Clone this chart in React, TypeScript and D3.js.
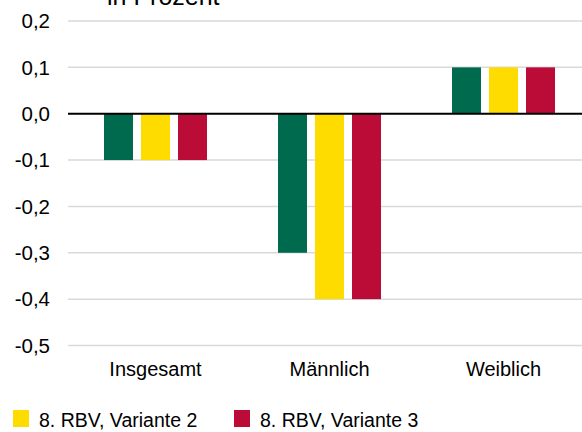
import React from "react";
import * as d3 from "d3";

const categories = ["Insgesamt", "Männlich", "Weiblich"];
const series = ["8. RBV, Variante 1", "8. RBV, Variante 2", "8. RBV, Variante 3"];
const colors = ["#006A4E", "#FFDC00", "#BA0C36"];
// values per series, in order of categories
const values = [
  [-0.1, -0.3, 0.1],
  [-0.1, -0.4, 0.1],
  [-0.1, -0.4, 0.1],
];
const yTicks = [0.2, 0.1, 0.0, -0.1, -0.2, -0.3, -0.4, -0.5];
const legendItems = [1, 2]; // only these fit in the frame

const W = 582;
const H = 432;
const font = "'Liberation Sans', Arial, sans-serif";

const App = () => {
  const y = d3.scaleLinear().domain([-0.5, 0.2]).range([345.5, 21]);
  const x = d3.scaleBand().domain(categories).range([68.5, 590.5]);
  const xs = d3
    .scaleBand()
    .domain(series)
    .range([35.5, 138.5])
    .paddingInner(8 / 37);
  const fmt = (v: number) => d3.format(".1f")(v).replace(".", ",").replace("−", "-");

  return (
    <svg
      width={W}
      height={H}
      style={{ position: "absolute", left: 0, top: 0, background: "#fff" }}
      fontFamily={font}
    >
      <text x={107} y={5} fontSize={25} fill="#000">
        in Prozent
      </text>

      {/* Gitterlinien */}
      {yTicks.map((t) => (
        <g key={t}>
          {t !== 0 && (
            <line x1={68} x2={W} y1={y(t)} y2={y(t)} stroke="#D9D9D9" strokeWidth={1.5} />
          )}
          <text
            x={50}
            y={y(t)}
            dy="0.35em"
            textAnchor="end"
            fontSize={20.5}
            fill="#000"
          >
            {fmt(t)}
          </text>
        </g>
      ))}

      {/* Balken */}
      {categories.map((c, ci) => (
        <g key={c} transform={`translate(${x(c)},0)`}>
          {series.map((s, si) => {
            const v = values[si][ci];
            return (
              <rect
                key={s}
                x={xs(s)}
                y={Math.min(y(v), y(0))}
                width={xs.bandwidth()}
                height={Math.abs(y(v) - y(0))}
                fill={colors[si]}
              />
            );
          })}
          <text
            x={x.bandwidth() / 2}
            y={376}
            textAnchor="middle"
            fontSize={20}
            fill="#000"
          >
            {c}
          </text>
        </g>
      ))}

      {/* Nulllinie */}
      <line x1={68} x2={W} y1={y(0)} y2={y(0)} stroke="#000" strokeWidth={2} />

      {/* Legende */}
      {legendItems.map((i, k) => (
        <g key={i} transform={`translate(${13 + k * 221},0)`}>
          <rect x={0} y={410} width={16} height={17} fill={colors[i]} />
          <text x={26} y={427} fontSize={19.5} fill="#000">
            {series[i]}
          </text>
        </g>
      ))}
    </svg>
  );
};

export default App;
